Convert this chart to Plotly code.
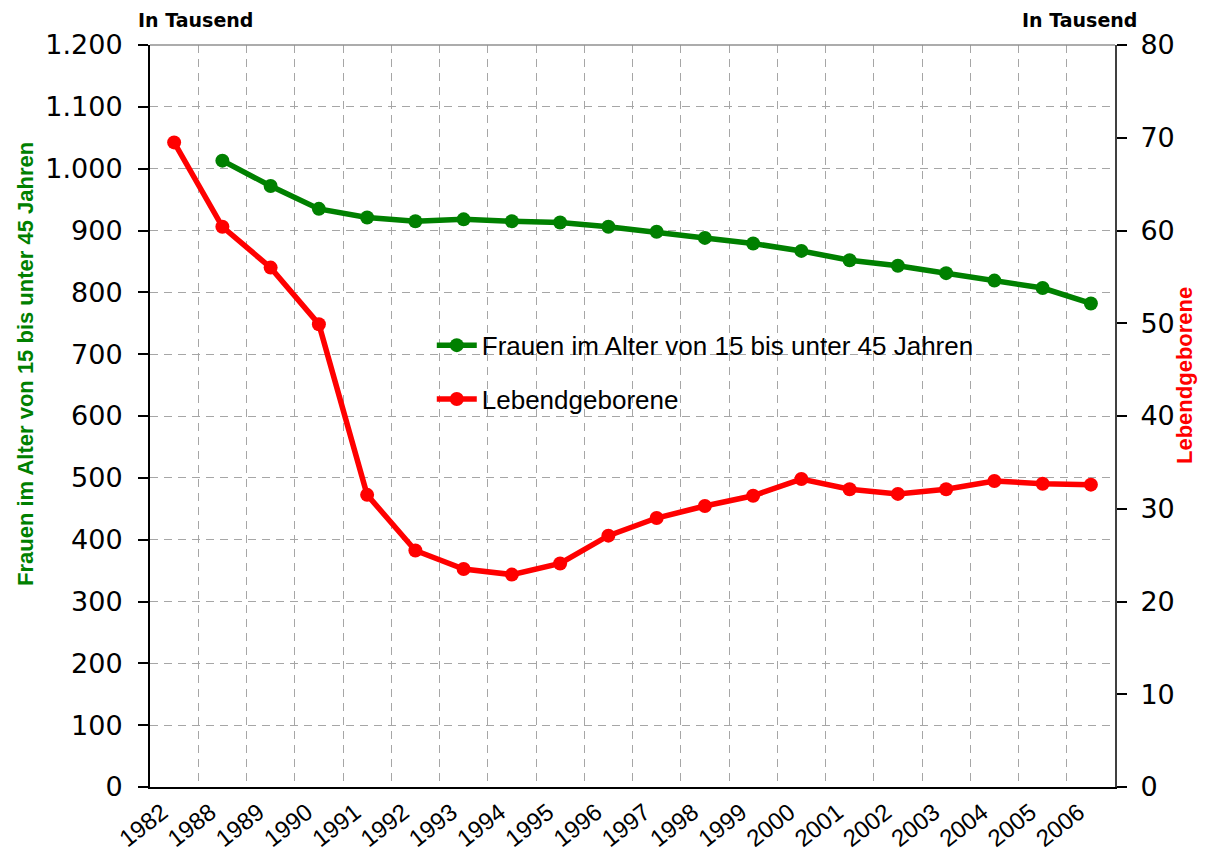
import plotly.graph_objects as go

years = ["1982", "1988", "1989", "1990", "1991", "1992", "1993", "1994", "1995", "1996",
         "1997", "1998", "1999", "2000", "2001", "2002", "2003", "2004", "2005", "2006"]
frauen = [None, 1013, 972, 935, 921, 915, 918, 915, 913, 906,
          898, 888, 879, 867, 852, 843, 831, 819, 807, 782]
geborene = [69.5, 60.4, 56.0, 49.9, 31.5, 25.5, 23.5, 22.9, 24.1, 27.1,
            29.0, 30.3, 31.4, 33.2, 32.1, 31.6, 32.1, 33.0, 32.7, 32.6]
left_ticks = [0, 100, 200, 300, 400, 500, 600, 700, 800, 900, 1000, 1100, 1200]
left_labels = ["0", "100", "200", "300", "400", "500", "600", "700", "800", "900",
               "1.000", "1.100", "1.200"]
right_ticks = [0, 10, 20, 30, 40, 50, 60, 70, 80]

name_green = "Frauen im Alter von 15 bis unter 45 Jahren"
name_red = "Lebendgeborene"

GREEN = "#008000"
RED = "#FF0000"
GRID = "#A6A6A6"

# page body has an 8px margin; plot area in window: x 150..1115, y 45..787
PL, PT, PW, PH = 150, 45, 965, 742


def px(xw):
    return (xw - PL) / PW


def py(yw):
    return (PT + PH - yw) / PH


fig = go.Figure()
fig.add_trace(go.Scatter(
    x=years, y=frauen, name=name_green, mode="lines+markers",
    line=dict(color=GREEN, width=5.5), marker=dict(color=GREEN, size=14),
    legendgroup="g1", yaxis="y"))
fig.add_trace(go.Scatter(
    x=years, y=geborene, name=name_red, mode="lines+markers",
    line=dict(color=RED, width=5.5), marker=dict(color=RED, size=14),
    legendgroup="g2", yaxis="y2"))

fig.update_layout(
    width=1190, height=848,
    margin=dict(l=142, r=83, t=37, b=69, autoexpand=False),
    paper_bgcolor="white", plot_bgcolor="white",
    showlegend=True,
    legend=dict(x=0.292, y=0.627, xanchor="left", yanchor="top",
                font=dict(family="Liberation Sans", size=26, color="black"),
                bgcolor="rgba(0,0,0,0)", tracegroupgap=17, itemwidth=40),
    xaxis=dict(type="category", range=[-0.5, 19.5], tickson="boundaries",
               automargin=False,
               showgrid=True, gridcolor=GRID, griddash="8px,6px", gridwidth=1,
               showline=True, linecolor="black", linewidth=2,
               ticks="", tickangle=-38, ticklabelshift=-12,
               tickfont=dict(family="Liberation Sans", size=24, color="black")),
    yaxis=dict(range=[0, 1200], tickvals=left_ticks, ticktext=left_labels,
               automargin=False,
               showgrid=True, gridcolor=GRID, griddash="8px,6px", gridwidth=1,
               showline=True, linecolor="black", linewidth=2,
               ticks="outside", ticklen=10, tickcolor="black", tickwidth=1.5,
               ticklabelstandoff=10, zeroline=False,
               tickfont=dict(family="DejaVu Sans", size=27, color="black")),
    yaxis2=dict(range=[0, 80], tickvals=right_ticks, overlaying="y", side="right",
                automargin=False,
                showgrid=False, showline=True, linecolor="#404040", linewidth=2,
                ticks="outside", ticklen=10, tickcolor="black", tickwidth=1.5,
                ticklabelstandoff=8, zeroline=False,
                tickfont=dict(family="DejaVu Sans", size=27, color="black")),
    shapes=[dict(type="line", xref="paper", yref="paper", x0=0, x1=1, y0=1, y1=1,
                 line=dict(color="#909090", width=1.5))],
    annotations=[
        dict(text="<b>In Tausend</b>", xref="paper", yref="paper",
             x=px(195), y=py(8), showarrow=False,
             xanchor="center", yanchor="top", borderpad=0,
             font=dict(family="DejaVu Sans", size=19, color="black")),
        dict(text="<b>In Tausend</b>", xref="paper", yref="paper",
             x=px(1079), y=py(8), showarrow=False,
             xanchor="center", yanchor="top", borderpad=0,
             font=dict(family="DejaVu Sans", size=19, color="black")),
        dict(text="<b>" + name_green + "</b>", xref="paper", yref="paper",
             x=px(25), y=py(364), showarrow=False,
             textangle=-90, xanchor="center", yanchor="middle",
             font=dict(family="Liberation Sans", size=22, color=GREEN)),
        dict(text="<b>" + name_red + "</b>", xref="paper", yref="paper",
             x=px(1185), y=py(376), showarrow=False,
             textangle=-90, xanchor="center", yanchor="middle",
             font=dict(family="Liberation Sans", size=22, color=RED)),
    ],
)

fig.write_html("out.html")
